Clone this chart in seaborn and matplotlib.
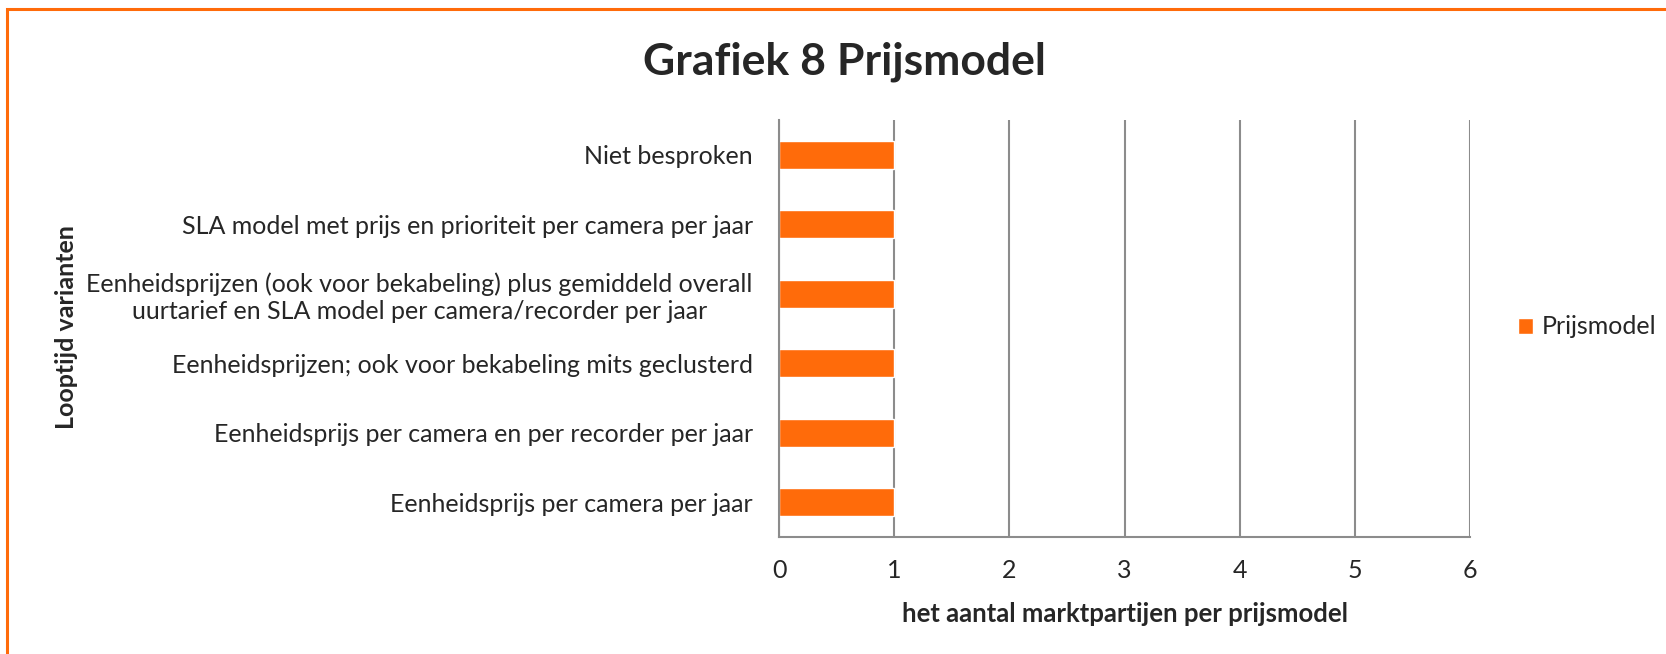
import numpy as np
import pandas as pd
import seaborn as sns
import matplotlib.pyplot as plt
from matplotlib.patches import Rectangle

categories = [
    "Niet besproken",
    "SLA model met prijs en prioriteit per camera per jaar",
    "Eenheidsprijzen (ook voor bekabeling) plus gemiddeld overall\nuurtarief en SLA model per camera/recorder per jaar",
    "Eenheidsprijzen; ook voor bekabeling mits geclusterd",
    "Eenheidsprijs per camera en per recorder per jaar",
    "Eenheidsprijs per camera per jaar",
]
values = [1, 1, 1, 1, 1, 1]
series_name = "Prijsmodel"

orange = "#FF6B0A"
grid_grey = "#8C8C8C"

sns.set_style("white")
plt.rcParams['font.family'] = ['Lato', 'DejaVu Sans']

df = pd.DataFrame({"cat": categories, "val": values, "serie": series_name})

fig = plt.figure(figsize=(16.66, 6.54), dpi=100)
ax = fig.add_axes([0.4676, 0.179, 0.8824 - 0.4676, 0.8165 - 0.179])

sns.barplot(data=df, y="cat", x="val", hue="serie", orient="h", palette=[orange],
            width=0.4, saturation=1, ax=ax, legend=True)

ax.set_xlim(0, 6)
ax.set_ylim(len(categories) - 0.5, -0.5)
ax.set_xticks(range(0, 7))
ax.tick_params(axis="x", labelsize=18, length=6, color=grid_grey, pad=10, direction="out")
ax.tick_params(axis="y", which="major", labelsize=18, length=0, pad=19)
ax.set_yticks(np.arange(-0.5, len(categories), 1), minor=True)
ax.tick_params(axis="y", which="minor", length=7, color=grid_grey, width=1.5, direction="out")
for lab in ax.get_yticklabels():
    lab.set_multialignment("center")
ax.grid(axis="x", color=grid_grey, linewidth=1.5)
ax.set_axisbelow(True)
for s in ["top", "right"]:
    ax.spines[s].set_visible(False)
ax.spines["left"].set_color(grid_grey)
ax.spines["left"].set_linewidth(1.5)
ax.spines["bottom"].set_color(grid_grey)
ax.spines["bottom"].set_linewidth(1.5)

ax.set_xlabel("het aantal marktpartijen per prijsmodel", fontsize=18.5, fontweight="bold", labelpad=14)
ax.set_ylabel("")
fig.text(0.04, 0.5, "Looptijd varianten", rotation=90, fontsize=18, fontweight="bold",
         ha="center", va="center")
fig.text(0.507, 0.905, "Grafiek 8 Prijsmodel", fontsize=32, fontweight="bold", ha="center", va="center")

ax.legend(loc="center left", bbox_to_anchor=(0.911, 0.5), bbox_transform=fig.transFigure,
          frameon=False, fontsize=18, handlelength=0.6, handleheight=0.6, handletextpad=0.35,
          borderpad=0, borderaxespad=0)

fig.patches.append(Rectangle((0.0045, -0.05), 1.1, 1.036, transform=fig.transFigure,
                             fill=False, edgecolor=orange, linewidth=2.2))

fig.savefig("out.png", dpi=100)
